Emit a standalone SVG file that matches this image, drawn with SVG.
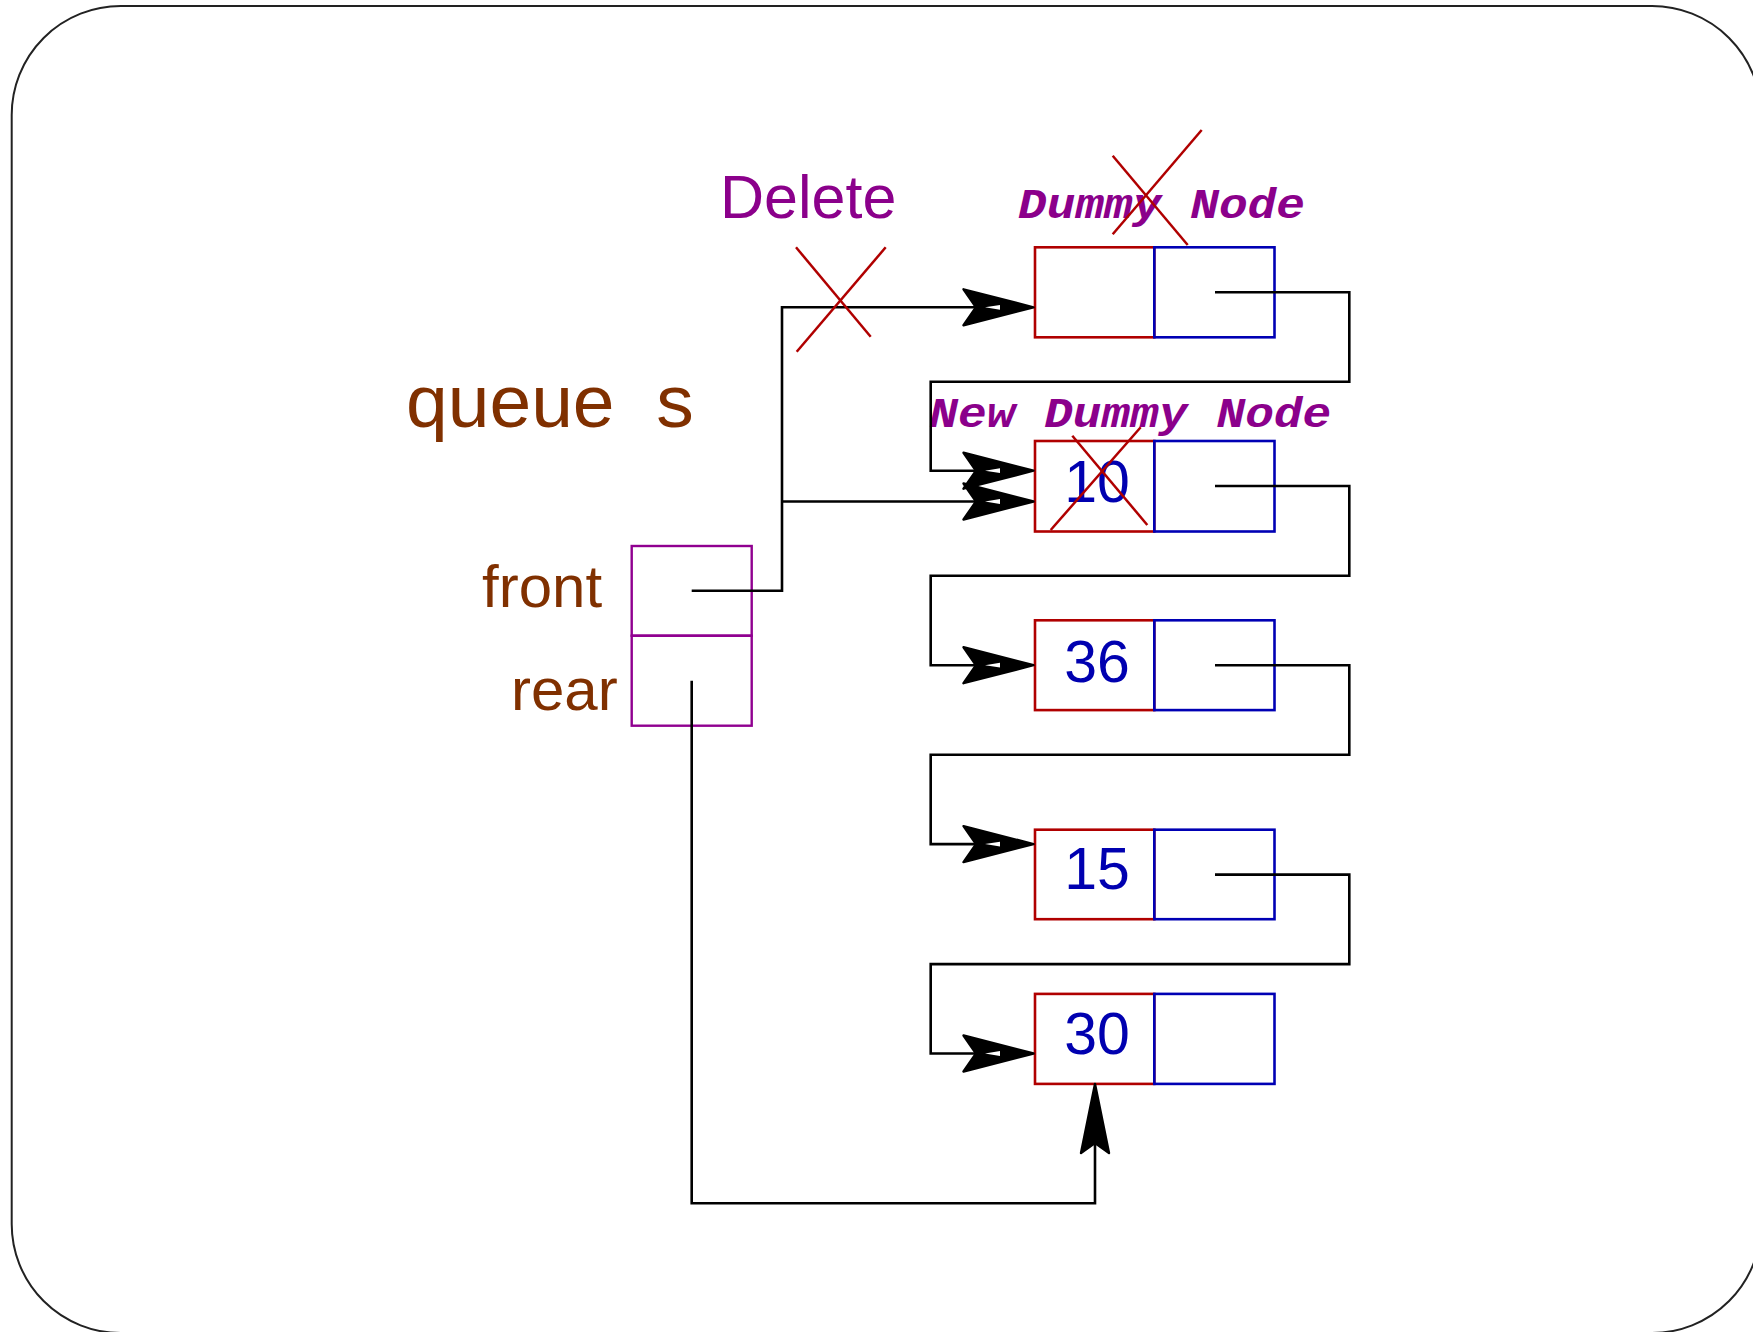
<svg xmlns="http://www.w3.org/2000/svg" width="1753" height="1332" viewBox="0 0 1753 1332">
<style>
.frame{fill:none;stroke:#222;stroke-width:2}
.cellr{fill:none;stroke:#B00000;stroke-width:2.6}
.cellb{fill:none;stroke:#0000B4;stroke-width:2.6}
.qbox{fill:none;stroke:#900090;stroke-width:2.4}
.wire{fill:none;stroke:#000;stroke-width:2.6}
.cross{stroke:#B00000;stroke-width:2.5;fill:none}
.num{font-family:"Liberation Sans",Arial,sans-serif;font-size:59px;fill:#0000B0;text-anchor:middle}
.lbl{font-family:"Liberation Sans",Arial,sans-serif;fill:#803000}
.del{font-family:"Liberation Sans",Arial,sans-serif;fill:#8B008B;font-size:61px}
.mono{font-family:"Liberation Mono","DejaVu Sans Mono",monospace;font-weight:bold;font-style:italic;fill:#8B008B;font-size:43px}
.head{fill:#000;stroke:#000;stroke-width:2.4;stroke-linejoin:round}
</style>
<defs>
<marker id="ah" markerUnits="userSpaceOnUse" viewBox="-4 -2 84 48" markerWidth="84" markerHeight="48" refX="14" refY="22" orient="auto">
<path class="head" d="M71.5,22 L1.5,4 L14,22 L1.5,40 Z"/>
<path d="M23,22 L38,19.6 L38,24.4 Z" fill="#fff"/>
</marker>
<marker id="ah2" markerUnits="userSpaceOnUse" viewBox="-4 -2 78 36" markerWidth="78" markerHeight="36" refX="11" refY="16" orient="auto">
<path class="head" d="M70,16 L1,2 L11,16 L1,30 Z"/>
</marker>
</defs>

<rect class="frame" x="11.7" y="6" width="1749.3" height="1327" rx="109" ry="109"/>

<g id="title">
<text class="lbl" x="406" y="427" font-size="75" xml:space="preserve">queue  s</text>
</g>

<g id="queue-box">
<rect class="qbox" x="631.7" y="546" width="120" height="89.7"/>
<rect class="qbox" x="631.7" y="635.7" width="120" height="90"/>
<text class="lbl" x="482" y="607" font-size="60">front</text>
<text class="lbl" x="511" y="710" font-size="60">rear</text>
</g>

<g id="delete-label">
<text class="del" x="720" y="218.3">Delete</text>
</g>

<g id="node-dummy">
<rect class="cellr" x="1035" y="247.3" width="119.3" height="90"/>
<rect class="cellb" x="1154.3" y="247.3" width="120.2" height="90"/>
<text class="mono" x="1018" y="218.3" textLength="287" lengthAdjust="spacingAndGlyphs">Dummy Node</text>
</g>

<g id="node-10">
<rect class="cellr" x="1035" y="441" width="119.3" height="90.5"/>
<rect class="cellb" x="1154.3" y="441" width="120.2" height="90.5"/>
<text class="num" x="1097" y="501.7">10</text>
<text class="mono" x="929.3" y="426.7" textLength="402" lengthAdjust="spacingAndGlyphs">New Dummy Node</text>
</g>

<g id="node-36">
<rect class="cellr" x="1035" y="620.3" width="119.3" height="89.8"/>
<rect class="cellb" x="1154.3" y="620.3" width="120.2" height="89.8"/>
<text class="num" x="1097" y="681.7">36</text>
</g>

<g id="node-15">
<rect class="cellr" x="1035" y="829.7" width="119.3" height="89.5"/>
<rect class="cellb" x="1154.3" y="829.7" width="120.2" height="89.5"/>
<text class="num" x="1097" y="889.4">15</text>
</g>

<g id="node-30">
<rect class="cellr" x="1035" y="993.9" width="119.3" height="90"/>
<rect class="cellb" x="1154.3" y="993.9" width="120.2" height="90"/>
<text class="num" x="1097" y="1053.5">30</text>
</g>

<g id="connectors">
<polyline class="wire" points="691.7,590.7 782,590.7 782,307.3 976,307.3" marker-end="url(#ah)"/>
<polyline class="wire" points="782,501.5 976,501.5" marker-end="url(#ah)"/>
<polyline class="wire" points="1215,292.3 1349.3,292.3 1349.3,381.7 930.7,381.7 930.7,470.7 976,470.7" marker-end="url(#ah)"/>
<polyline class="wire" points="1215,486 1349.3,486 1349.3,575.8 930.7,575.8 930.7,665.2 976,665.2" marker-end="url(#ah)"/>
<polyline class="wire" points="1215,665.2 1349.3,665.2 1349.3,754.7 930.7,754.7 930.7,844.1 976,844.1" marker-end="url(#ah)"/>
<polyline class="wire" points="1215,874.6 1349.3,874.6 1349.3,964.1 930.7,964.1 930.7,1053.5 976,1053.5" marker-end="url(#ah)"/>
<polyline class="wire" points="691.7,680.7 691.7,1203.3 1095,1203.3 1095,1143" marker-end="url(#ah2)"/>
</g>

<g id="crosses">
<line class="cross" x1="796" y1="247.3" x2="870.7" y2="336.7"/>
<line class="cross" x1="885.7" y1="247.3" x2="796.7" y2="351.7"/>
<line class="cross" x1="1112.7" y1="155.7" x2="1187.7" y2="245"/>
<line class="cross" x1="1201.7" y1="130" x2="1112.7" y2="234.3"/>
<line class="cross" x1="1072.3" y1="435.7" x2="1147.3" y2="525"/>
<line class="cross" x1="1140.7" y1="427.3" x2="1050.7" y2="530"/>
</g>
</svg>
